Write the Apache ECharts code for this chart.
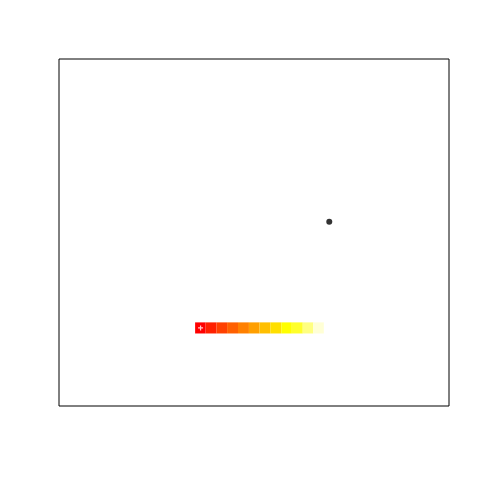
<!DOCTYPE html>
<html>
<head>
<meta charset="utf-8">
<script src="https://cdn.jsdelivr.net/npm/echarts@6/dist/echarts.min.js"></script>
<style>html,body{margin:0;padding:0;background:#fff}#c{width:480px;height:480px}</style>
</head>
<body>
<div id="c"></div>
<script>
// Colour strip cells (left edge x, right edge x), bottom/top y
var cellLeft = [34.9, 37.6, 40.4, 43.1, 45.9, 48.7, 51.4, 54.2, 57.0, 59.7, 62.5, 65.2];
var cellRight = [37.6, 40.4, 43.1, 45.9, 48.7, 51.4, 54.2, 57.0, 59.7, 62.5, 65.2, 67.9];
var cellBottom = 20.9;
var cellTop = 24.1;
var cellColors = ["#FF0000", "#FF2000", "#FF4000", "#FF6000", "#FF8000", "#FF9F00",
                  "#FFBF00", "#FFDF00", "#FFFF00", "#FFFF2A", "#FFFF80", "#FFFFD5"];
// Black point
var pointData = [[69.3, 53.1]];
// White cross marker
var crossData = [[36.3, 22.5]];

var cellData = cellLeft.map(function (l, i) { return [l, cellRight[i], cellBottom, cellTop, i]; });

var chart = echarts.init(document.getElementById('c'), null, {renderer: 'canvas'});
chart.setOption({
  animation: false,
  backgroundColor: '#ffffff',
  grid: {left: 59, top: 59, width: 390, height: 347, show: true, borderColor: '#000', borderWidth: 1, backgroundColor: 'transparent'},
  xAxis: {type: 'value', min: 0, max: 100, show: false},
  yAxis: {type: 'value', min: 0, max: 100, show: false},
  series: [
    {
      type: 'custom',
      data: cellData,
      encode: {x: [0, 1], y: [2, 3]},
      renderItem: function (params, api) {
        var p0 = api.coord([api.value(0), api.value(3)]);
        var p1 = api.coord([api.value(1), api.value(2)]);
        return {
          type: 'rect',
          shape: {x: p0[0], y: p0[1], width: p1[0] - p0[0], height: p1[1] - p0[1]},
          style: {fill: cellColors[api.value(4)], stroke: null}
        };
      },
      z: 1
    },
    {
      type: 'scatter',
      data: pointData,
      symbol: 'circle',
      symbolSize: 6,
      itemStyle: {color: '#000'},
      z: 3
    },
    {
      type: 'scatter',
      data: crossData,
      symbol: 'path://M-1,0L1,0M0,-1L0,1',
      symbolSize: 5,
      itemStyle: {color: 'none', borderColor: '#fff', borderWidth: 1.2},
      z: 4
    }
  ]
});
</script>
</body>
</html>
